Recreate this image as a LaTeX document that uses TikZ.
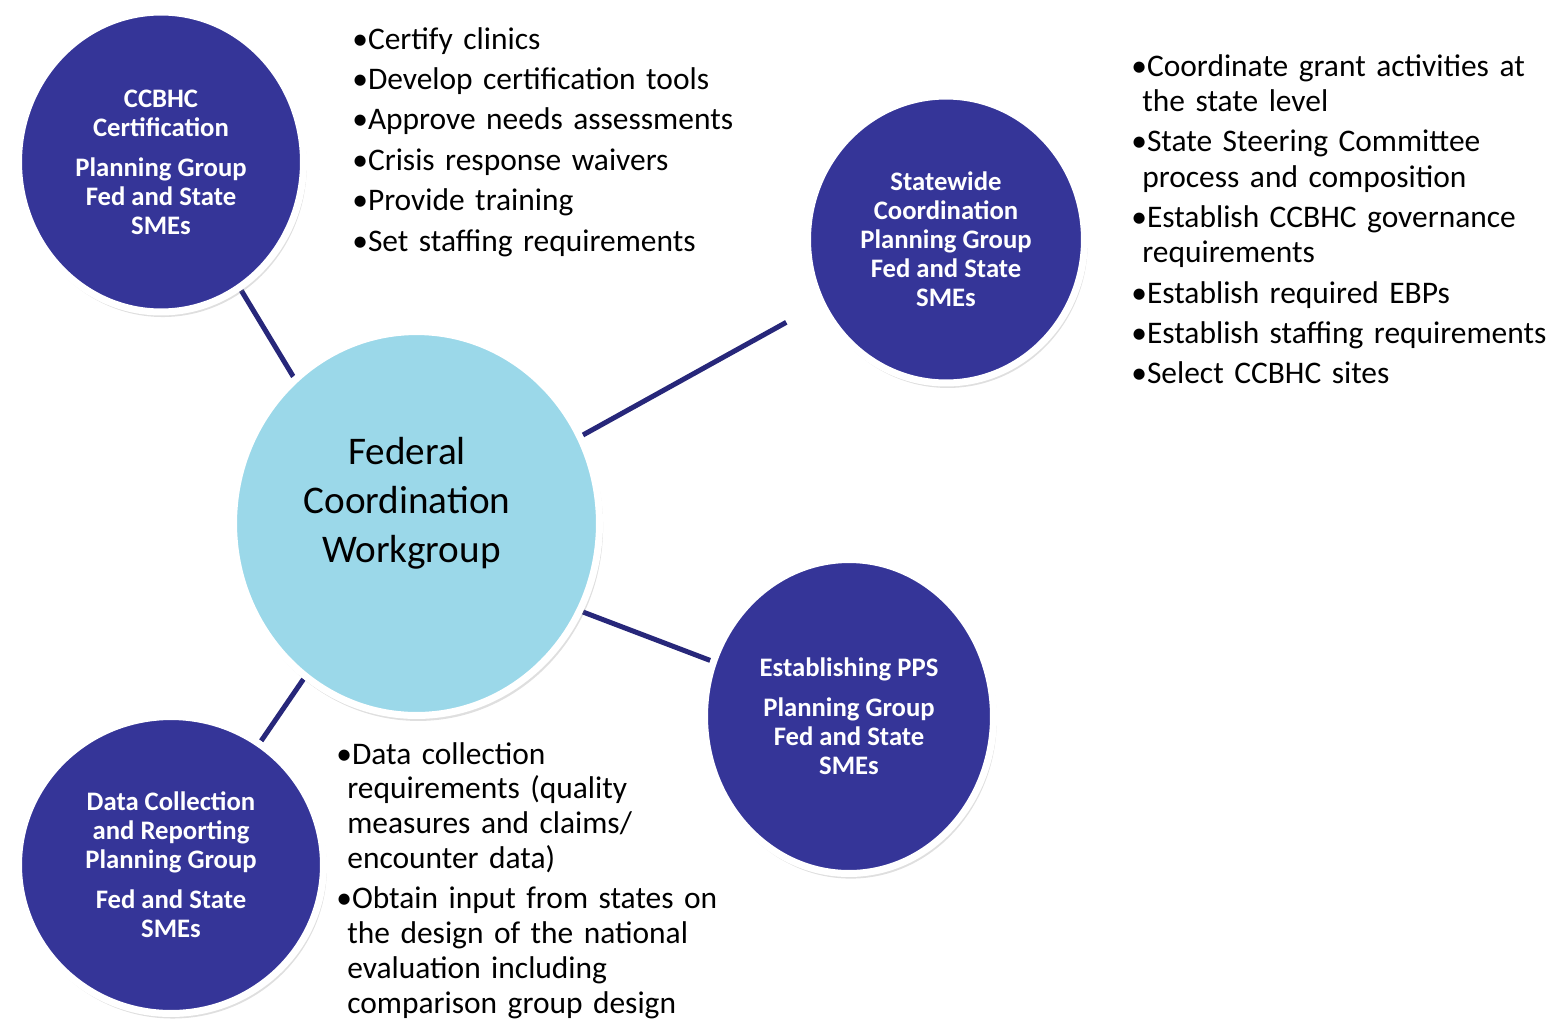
\documentclass[tikz,border=0pt]{standalone}
\usepackage{fontspec}
\setmainfont{Carlito}
\usepackage{xcolor}
\usetikzlibrary{positioning,shapes.geometric,shadows,backgrounds}

\definecolor{groupblue}{HTML}{353598}
\definecolor{hubblue}{HTML}{9BD8E9}
\definecolor{linkblue}{HTML}{27277A}

% one bullet with hanging lines
\newcommand{\bitem}[1]{\parskip=2.9pt\hangindent=0.22cm\hangafter=1\noindent•#1\par}

\begin{document}
\begin{tikzpicture}[
    x=0.02cm, y=-0.02cm,
    group/.style={ellipse, fill=groupblue, draw=white, line width=0.14cm,
        drop shadow={opacity=0.25, shadow xshift=1pt, shadow yshift=-2pt, shadow scale=1.01},
        inner sep=0pt, align=center, text=white,
        font=\bfseries\fontsize{15.2}{16.5}\selectfont},
    hub/.style={ellipse, fill=hubblue, draw=white, line width=0.14cm,
        drop shadow={opacity=0.25, shadow xshift=1pt, shadow yshift=-2pt, shadow scale=1.01},
        minimum width=7.32cm, minimum height=7.68cm},
    hubtxt/.style={align=center, font=\fontsize{22.3}{27.9}\selectfont},
    link/.style={draw=linkblue, line width=0.1cm},
    notes/.style={anchor=base west, inner sep=0pt, text width=10cm, align=left,
        font=\fontsize{17.9}{20.1}\selectfont}
]
\useasboundingbox (0,0) rectangle (1561,1018);

% Workgroup in the middle
\node[hub] (fed) at (416.5,523.5) {};
\node[hubtxt] (fedtxt) at (407,503) {Federal\\Coordination\\\ Workgroup};

% Planning groups
\node[group, minimum width=5.7cm, minimum height=6.0cm] (cert) at (161,162)
    {CCBHC\\Certification\\[6.3pt]Planning Group\\Fed and State\\SMEs};
\node[group, minimum width=5.54cm, minimum height=5.74cm] (state) at (946,239.5)
    {Statewide\\Coordination\\Planning Group\\Fed and State\\SMEs};
\node[group, minimum width=5.78cm, minimum height=6.28cm] (pps) at (849,716.5)
    {Establishing PPS\\[6.3pt]Planning Group\\Fed and State\\SMEs};
\node[group, minimum width=6.1cm, minimum height=5.94cm] (data) at (171,865)
    {Data Collection\\and Reporting\\Planning Group\\[6.3pt]Fed and State\\SMEs};

% Spokes
\begin{scope}[on background layer]
\draw[link] (cert.-58) -- (fed.130);
\draw[link, shorten >=0.74cm] (fed.28) -- (state.207);
\draw[link] (fed.-28) -- (pps.158);
\draw[link] (fed.234.5) -- (data.54);
\end{scope}

% Task lists
\node[notes] (certnotes) at (352,49) {%
    \bitem{Certify clinics}
    \bitem{Develop certification tools}
    \bitem{Approve needs assessments}
    \bitem{Crisis response waivers}
    \bitem{Provide training}
    \bitem{Set staffing requirements}};

\node[notes] (statenotes) at (1131,76) {%
    \bitem{Coordinate grant activities at\newline the state level}
    \bitem{State Steering Committee\newline process and composition}
    \bitem{Establish CCBHC governance\newline requirements}
    \bitem{Establish required EBPs}
    \bitem{Establish staffing requirements}
    \bitem{Select CCBHC sites}};

\node[notes, font=\fontsize{17.9}{19.9}\selectfont] (datanotes) at (336,764) {%
    \bitem{Data collection\newline requirements (quality\newline measures and claims/\newline encounter data)}
    \bitem{Obtain input from states on\newline the design of the national\newline evaluation including\newline comparison group design}};

\end{tikzpicture}
\end{document}
